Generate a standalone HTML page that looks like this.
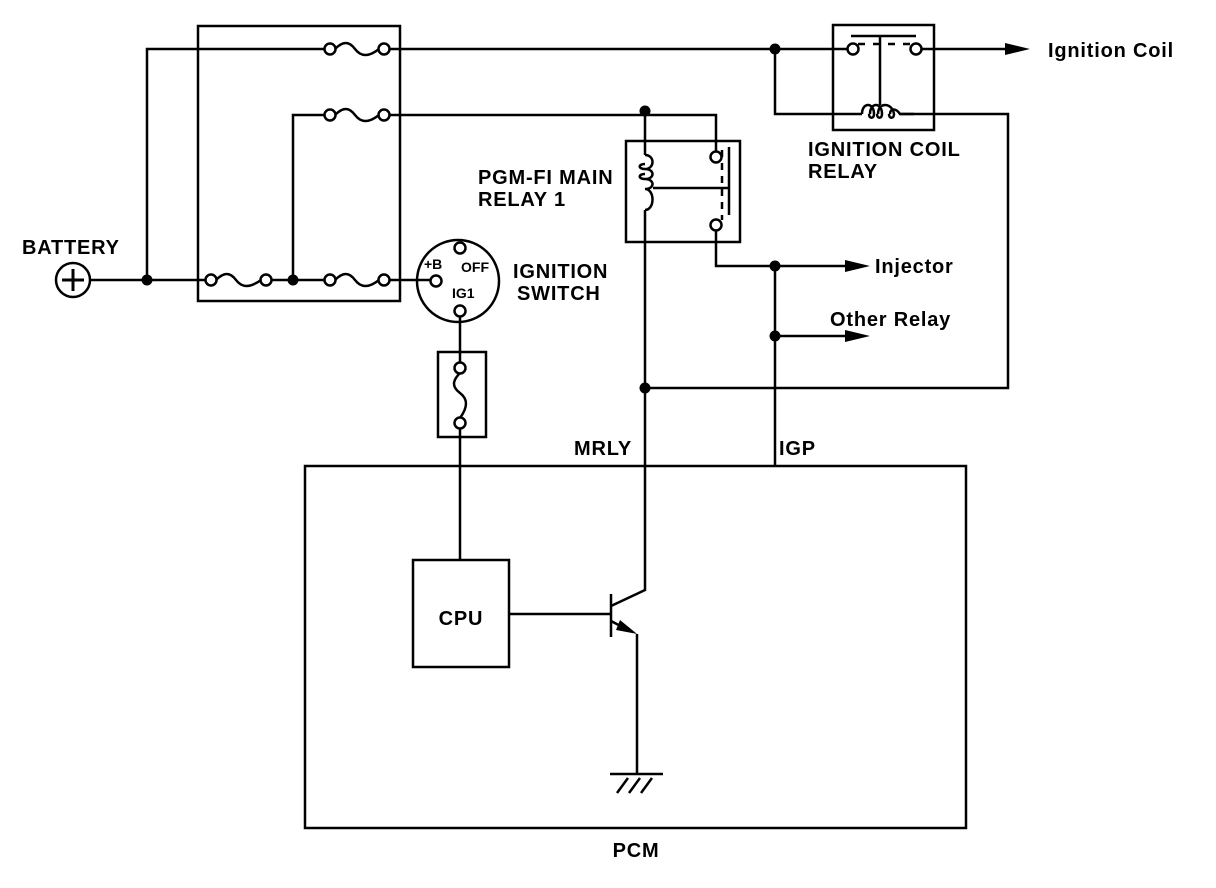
<!DOCTYPE html><html><head><style>body{margin:0;background:#fff}svg{display:block}text{font-family:"Liberation Sans",sans-serif;font-weight:bold;fill:#000}</style></head><body>
<svg width="1216" height="888" viewBox="0 0 1216 888" xmlns="http://www.w3.org/2000/svg">
<g stroke="#000" stroke-width="2.5" fill="none">
<rect x="198" y="26" width="202" height="275"/>
<rect x="305" y="466" width="661" height="362"/>
<rect x="413" y="560" width="96" height="107"/>
<rect x="438" y="352" width="48" height="85"/>
<rect x="626" y="141" width="114" height="101"/>
<rect x="833" y="25" width="101" height="105"/>
<circle cx="73" cy="280" r="17"/>
<path d="M62 280H84M73 269V291" stroke-width="3"/>
<circle cx="458" cy="281" r="41"/>
<path d="M90 280H206"/>
<path d="M147 280V49H325M389 49H848"/>
<path d="M271 280H325M389 280H431"/>
<path d="M293 280V115H325M389 115H716V152"/>
<path d="M645 115V155M645 210V590L611 606"/>
<path d="M716 230V266H850M775 266V466M775 336H850"/>
<path d="M775 49V114H862M900 114H1008V388H645"/>
<path d="M921 49H1010"/>
<path d="M460 316V363M460 428V560"/>
<path d="M509 614H611M611 594V637M611 621L630 631M637 634V774M610 774H663"/>
<path d="M617 793L628 778M629 793L640 778M641 793L652 778"/>
<path d="M216 280c8-8 14-8 20 0s14 8 25 0"/>
<path d="M335 280c8-8 14-8 20 0s14 8 24 0"/>
<path d="M335 49c8-8 14-8 20 0s14 8 24 0"/>
<path d="M335 115c8-8 14-8 20 0s14 8 24 0"/>
<path d="M460 373c-8 8-8 14 0 20s8 14 0 25"/>
<path d="M645 155c10 0 10 14 0 14c-7 0-7-5 0-5M645 169c10 0 10 10 0 10c-7 0-7-5 0-5M645 179c10 0 10 10 0 10M645 189c10 0 10 21 0 21"/>
<path d="M653 188H729M729 147V215"/>
<path d="M722 150V220" stroke-dasharray="7,6"/>
<path d="M851 36H916M880 36V105"/>
<path d="M858 44H913" stroke-dasharray="7,8"/>
<path d="M862 114c0-12 12-12 12 0c0 5-5 5-5 0M870 114c0-12 12-12 12 0c0 5-5 5-5 0M878 114c0-12 14-12 16 0c0 5-5 5-5 0M890 114c0-6 6-6 10 0H914"/>
</g>
<g stroke="#000" stroke-width="2.5" fill="#fff">
<circle cx="211" cy="280" r="5.5"/><circle cx="266" cy="280" r="5.5"/>
<circle cx="330" cy="280" r="5.5"/><circle cx="384" cy="280" r="5.5"/>
<circle cx="330" cy="49" r="5.5"/><circle cx="384" cy="49" r="5.5"/>
<circle cx="330" cy="115" r="5.5"/><circle cx="384" cy="115" r="5.5"/>
<circle cx="436" cy="281" r="5.5"/><circle cx="460" cy="248" r="5.5"/><circle cx="460" cy="311" r="5.5"/>
<circle cx="460" cy="368" r="5.5"/><circle cx="460" cy="423" r="5.5"/>
<circle cx="716" cy="157" r="5.5"/><circle cx="716" cy="225" r="5.5"/>
<circle cx="853" cy="49" r="5.5"/><circle cx="916" cy="49" r="5.5"/>
</g>
<g fill="#000">
<circle cx="147" cy="280" r="5.5"/><circle cx="293" cy="280" r="5.5"/>
<circle cx="645" cy="111" r="5.5"/><circle cx="775" cy="49" r="5.5"/>
<circle cx="775" cy="266" r="5.5"/><circle cx="775" cy="336" r="5.5"/>
<circle cx="645" cy="388" r="5.5"/>
<path d="M1005 43L1030 49L1005 55Z"/>
<path d="M845 260L870 266L845 272Z"/>
<path d="M845 330L870 336L845 342Z"/>
<path d="M637 634L620 620L616 630Z"/>
</g>
<g font-size="20" letter-spacing="0.8">
<text x="22" y="254">BATTERY</text>
<text x="513" y="278">IGNITION</text>
<text x="517" y="300">SWITCH</text>
<text x="478" y="184">PGM-FI MAIN</text>
<text x="478" y="206">RELAY 1</text>
<text x="808" y="156">IGNITION COIL</text>
<text x="808" y="178">RELAY</text>
<text x="1048" y="57">Ignition Coil</text>
<text x="875" y="273">Injector</text>
<text x="830" y="326">Other Relay</text>
<text x="574" y="455">MRLY</text>
<text x="779" y="455">IGP</text>
<text x="461" y="625" text-anchor="middle">CPU</text>
<text x="636" y="857" text-anchor="middle">PCM</text>
</g>
<g font-size="14">
<text x="424" y="269">+B</text>
<text x="461" y="272">OFF</text>
<text x="452" y="298">IG1</text>
</g>
</svg></body></html>
